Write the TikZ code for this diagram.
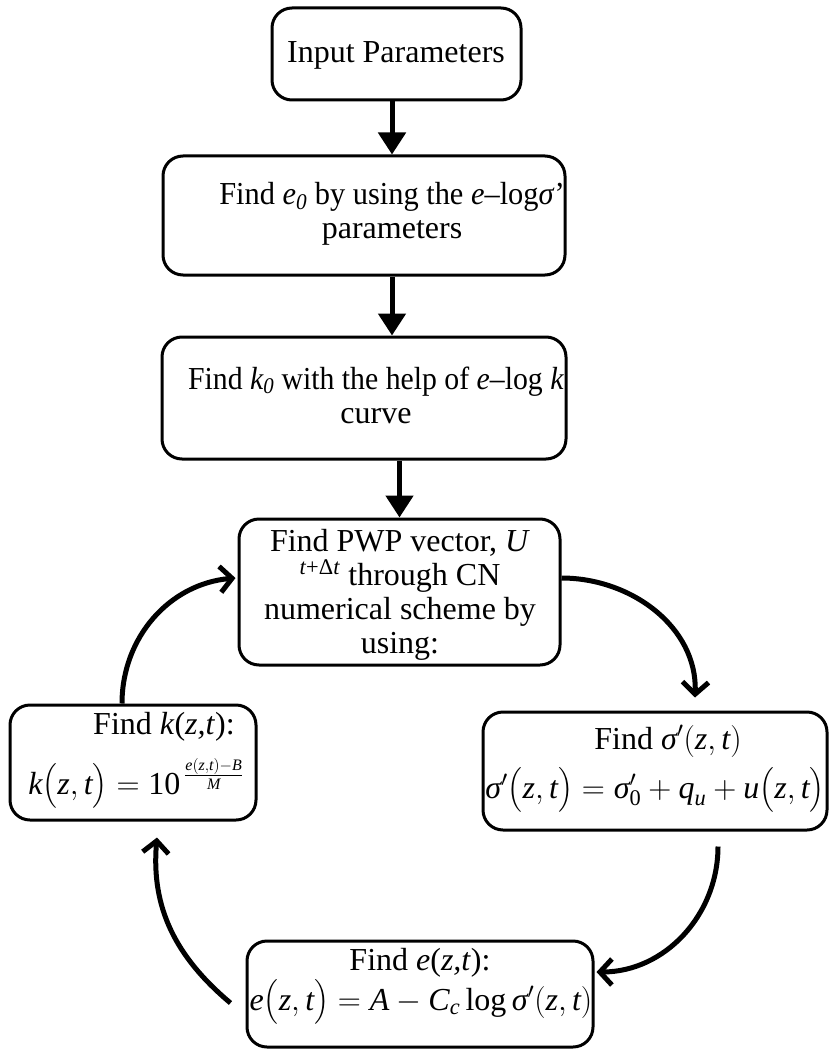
\RequirePackage{fix-cm}
\documentclass[tikz,border=0pt]{standalone}
\usepackage{amsmath}
\usepackage{fontspec}
\setmainfont{Liberation Serif}
\usetikzlibrary{arrows.meta}
\newcommand\ti[1]{\text{\itshape #1}}
\newcommand\tu[1]{\text{\upshape #1}}
\begin{document}
\begin{tikzpicture}[x=1pt,y=-1pt,
  box/.style={draw, line width=3pt, rounded corners=20pt, inner sep=0pt},
  txt/.style={align=center, font=\fontsize{32}{34}\selectfont, inner sep=0pt},
  flow/.style={line width=5pt, -{Triangle[width=27pt,length=22pt]}},
  loopar/.style={line width=5pt, -{Straight Barb[length=12pt,width=26pt]}}
]
\useasboundingbox (0,0) rectangle (831,1051);

% boxes
\node[box, minimum width=249pt, minimum height=92pt]  (b1) at (396.5,54) {};
\node[box, minimum width=402pt, minimum height=119pt] (b2) at (364,215.5) {};
\node[box, minimum width=404pt, minimum height=122pt] (b3) at (364,398) {};
\node[box, minimum width=321pt, minimum height=146pt] (b4) at (399.5,592) {};
\node[box, minimum width=246pt, minimum height=115pt] (b5) at (133,762.5) {};
\node[box, minimum width=344pt, minimum height=118pt] (b6) at (655,771) {};
\node[box, minimum width=346pt, minimum height=106pt] (b7) at (420,994) {};

% texts
\node[txt] (t1) at (396,55) {Input Parameters};
\node[txt] (t2) at (392,214) {\scalebox{0.95}[1]{Find \textit{e\textsubscript{0}} by using the \textit{e}–log\textit{σ}’}\\parameters};
\node[txt] (t3) at (376,395) {\scalebox{0.93}[1]{Find \textit{k\textsubscript{0}} with the help of \textit{e}–log \textit{k}}\\curve};
\node[txt] (t4) at (400,595) {Find PWP vector, \textit{U}\\\textsuperscript{\textit{t}+Δ\textit{t}} through CN\\numerical scheme by\\using:};

\node[txt, anchor=base] (t5a) at (164,734) {Find \textit{k}(\textit{z,t}):};
\node[txt, anchor=base] (t5b) at (136,794) {$\ti{k}\bigl(\ti{z},\ti{t}\bigr)=\tu{10}^{\,\frac{\ti{e}(\ti{z},\ti{t})-\ti{B}}{\ti{M}}}$};

\node[txt, anchor=base] (t6a) at (668,749) {Find $\ti{σ}'(\ti{z},\ti{t})$};
\node[txt, anchor=base] (t6b) at (655,798) {$\ti{σ}'\bigl(\ti{z},\ti{t}\bigr)=\ti{σ}'_{\tu{0}}+\ti{q}_{\ti{u}}+\ti{u}\bigl(\ti{z},\ti{t}\bigr)$};

\node[txt, anchor=base] (t7a) at (420,970) {Find \textit{e}(\textit{z,t}):};
\node[txt, anchor=base] (t7b) at (421,1010) {$\ti{e}\bigl(\ti{z},\ti{t}\bigr)=\ti{A}-\ti{C}_{\ti{c}}\,\tu{log}\,\ti{σ}'(\ti{z},\ti{t})$};

% straight connectors
\draw[flow] ([xshift=-4.5pt]b1.south) -- ([xshift=-4.5pt]b1.south |- b2.north);
\draw[flow] ([xshift=28pt]b2.south) -- ([xshift=28pt]b2.south |- b3.north);
\draw[flow] (b3.south -| b4.north) -- (b4.north);

% loop connectors
\draw[loopar] ([yshift=14pt]b4.east) to[out=0,in=88] ([xshift=40pt,yshift=13pt]b6.north);
\draw[loopar] ([xshift=63pt,yshift=-15pt]b6.south) to[out=-90,in=0] ([xshift=2pt,yshift=22pt]b7.east);
\draw[loopar] ([xshift=-15pt,yshift=-9pt]b7.west) to[out=140,in=-95] ([xshift=24pt,yshift=-16pt]b5.south);
\draw[loopar] ([xshift=-11pt]b5.north) to[out=90,in=185] ([xshift=-2pt,yshift=14pt]b4.west);
\end{tikzpicture}
\end{document}
